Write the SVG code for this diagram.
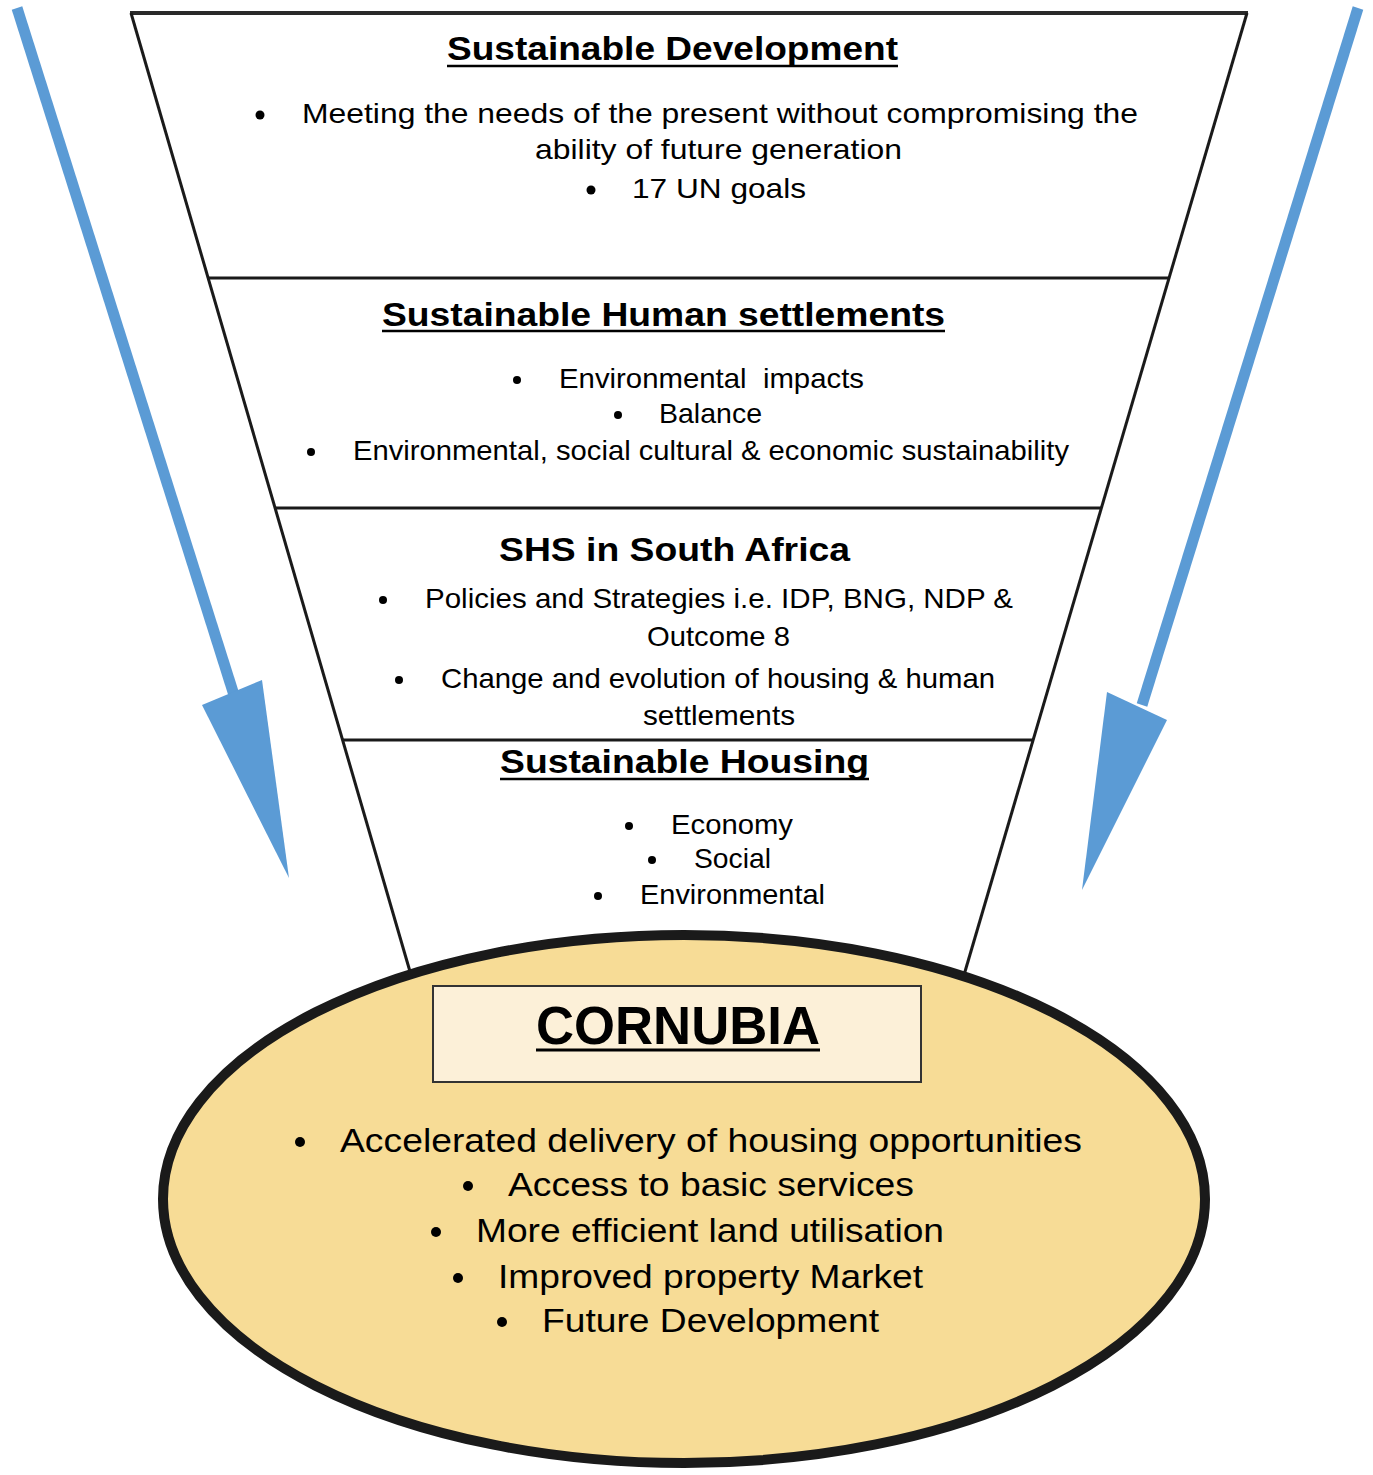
<svg xmlns="http://www.w3.org/2000/svg" width="1373" height="1475" viewBox="0 0 1373 1475">
<style>
text{font-family:"Liberation Sans",Arial,sans-serif;fill:#000}
.h{font-weight:bold;font-size:34px}
.b{font-size:28px}
.e{font-size:34px}
.ul{stroke:#000;stroke-width:2.5}
.fl{stroke:#1a1a1a;stroke-width:3;fill:none}
.dot{fill:#000}
.arr{fill:#5b9bd5}
</style>
<rect width="1373" height="1475" fill="#fff"/>
<g id="connectors">
  <line x1="17" y1="8" x2="234" y2="695" stroke="#5b9bd5" stroke-width="11"/>
  <polygon class="arr" points="202,705 262,680 289,878"/>
  <line x1="1358" y1="8" x2="1142" y2="705" stroke="#5b9bd5" stroke-width="11"/>
  <polygon class="arr" points="1107,692 1167,720 1082,890"/>
</g>
<g id="funnel">
  <line class="fl" x1="130" y1="13" x2="1248" y2="13" style="stroke-width:4;stroke:#2a2a2a"/>
  <line class="fl" x1="131" y1="13" x2="411" y2="975"/>
  <line class="fl" x1="1247" y1="13" x2="964" y2="975"/>
  <line class="fl" x1="207" y1="278" x2="1169" y2="278"/>
  <line class="fl" x1="275" y1="508" x2="1101" y2="508"/>
  <line class="fl" x1="343" y1="740" x2="1033" y2="740"/>
</g>
<g id="sustainable-development">
  <text class="h" x="447" y="60" textLength="451" lengthAdjust="spacingAndGlyphs">Sustainable Development</text>
  <line class="ul" x1="447" y1="66" x2="898" y2="66"/>
  <circle class="dot" cx="260" cy="115" r="4.5"/>
  <text class="b" x="302" y="123" textLength="836" lengthAdjust="spacingAndGlyphs">Meeting the needs of the present without compromising the</text>
  <text class="b" x="535" y="159" textLength="367" lengthAdjust="spacingAndGlyphs">ability of future generation</text>
  <circle class="dot" cx="591" cy="190" r="4.5"/>
  <text class="b" x="632" y="198" textLength="174" lengthAdjust="spacingAndGlyphs">17 UN goals</text>
</g>
<g id="sustainable-human-settlements">
  <text class="h" x="382" y="326" textLength="563" lengthAdjust="spacingAndGlyphs">Sustainable Human settlements</text>
  <line class="ul" x1="382" y1="331" x2="945" y2="331"/>
  <circle class="dot" cx="517" cy="380" r="4"/>
  <text class="b" x="559" y="388" textLength="305" lengthAdjust="spacingAndGlyphs" xml:space="preserve" style="white-space:pre">Environmental  impacts</text>
  <circle class="dot" cx="618" cy="415" r="4"/>
  <text class="b" x="659" y="423" textLength="103" lengthAdjust="spacingAndGlyphs">Balance</text>
  <circle class="dot" cx="311" cy="452" r="4"/>
  <text class="b" x="353" y="460" textLength="716" lengthAdjust="spacingAndGlyphs">Environmental, social cultural &amp; economic sustainability</text>
</g>
<g id="shs-south-africa">
  <text class="h" x="499" y="561" textLength="351" lengthAdjust="spacingAndGlyphs">SHS in South Africa</text>
  <circle class="dot" cx="383" cy="600" r="4"/>
  <text class="b" x="425" y="608" textLength="588" lengthAdjust="spacingAndGlyphs">Policies and Strategies i.e. IDP, BNG, NDP &amp;</text>
  <text class="b" x="647" y="646" textLength="143" lengthAdjust="spacingAndGlyphs">Outcome 8</text>
  <circle class="dot" cx="399" cy="680" r="4"/>
  <text class="b" x="441" y="688" textLength="554" lengthAdjust="spacingAndGlyphs">Change and evolution of housing &amp; human</text>
  <text class="b" x="643" y="725" textLength="152" lengthAdjust="spacingAndGlyphs">settlements</text>
</g>
<g id="sustainable-housing">
  <text class="h" x="500" y="773" textLength="369" lengthAdjust="spacingAndGlyphs">Sustainable Housing</text>
  <line class="ul" x1="500" y1="779" x2="869" y2="779"/>
  <circle class="dot" cx="629" cy="826" r="4"/>
  <text class="b" x="671" y="834" textLength="122" lengthAdjust="spacingAndGlyphs">Economy</text>
  <circle class="dot" cx="652" cy="860" r="4"/>
  <text class="b" x="694" y="868" textLength="77" lengthAdjust="spacingAndGlyphs">Social</text>
  <circle class="dot" cx="598" cy="896" r="4"/>
  <text class="b" x="640" y="904" textLength="185" lengthAdjust="spacingAndGlyphs">Environmental</text>
</g>
<g id="cornubia">
  <ellipse cx="684" cy="1199" rx="521" ry="264" fill="#f7dc96" stroke="#1a1a1a" stroke-width="10"/>
  <rect x="433" y="986" width="488" height="96" fill="#fcf0d8" stroke="#333" stroke-width="2"/>
  <text x="536" y="1044" textLength="284" lengthAdjust="spacingAndGlyphs" style="font-weight:bold;font-size:53px">CORNUBIA</text>
  <line x1="536" y1="1050" x2="820" y2="1050" stroke="#000" stroke-width="3"/>
  <circle class="dot" cx="300" cy="1142" r="5"/>
  <text class="e" x="340" y="1152" textLength="742" lengthAdjust="spacingAndGlyphs">Accelerated delivery of housing opportunities</text>
  <circle class="dot" cx="468" cy="1186" r="5"/>
  <text class="e" x="508" y="1196" textLength="406" lengthAdjust="spacingAndGlyphs">Access to basic services</text>
  <circle class="dot" cx="436" cy="1232" r="5"/>
  <text class="e" x="476" y="1242" textLength="468" lengthAdjust="spacingAndGlyphs">More efficient land utilisation</text>
  <circle class="dot" cx="458" cy="1278" r="5"/>
  <text class="e" x="498" y="1288" textLength="425" lengthAdjust="spacingAndGlyphs">Improved property Market</text>
  <circle class="dot" cx="502" cy="1322" r="5"/>
  <text class="e" x="542" y="1332" textLength="337" lengthAdjust="spacingAndGlyphs">Future Development</text>
</g>
</svg>
